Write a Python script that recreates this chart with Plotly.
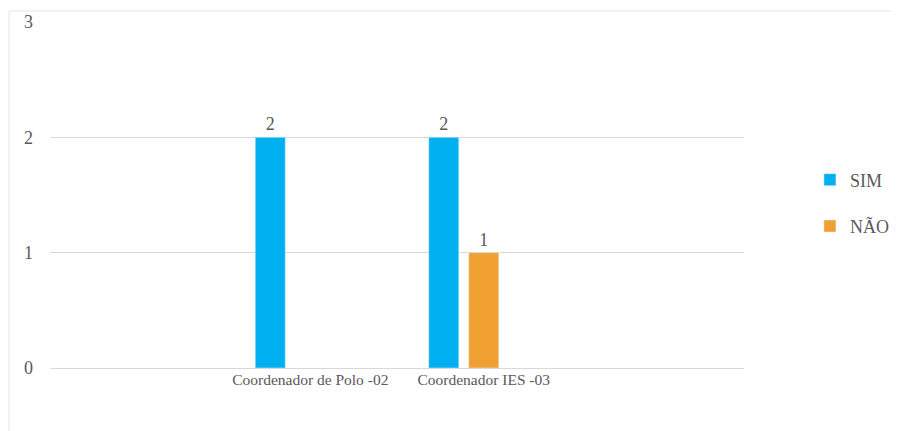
import plotly.graph_objects as go

categories = ["", "Coordenador de Polo -02", "Coordenador IES -03", ""]
sim_values = [None, 2, 2, None]
nao_values = [None, None, 1, None]
y_ticks = [0, 1, 2, 3]

positions = list(range(len(categories)))
label_positions = [p for p, c in zip(positions, categories) if c]
label_texts = [c for c in categories if c]

FONT = "Times New Roman"
GRAY = "#595959"

bar_w = 0.173
fig = go.Figure()
fig.add_trace(go.Bar(
    x=positions, y=sim_values, name="SIM", marker_color="#00B0F0",
    width=bar_w, offset=-0.2305 - bar_w / 2,
    text=[("" if v is None else str(v)) for v in sim_values],
    textposition="outside", cliponaxis=False,
    textfont=dict(family=FONT, size=18, color=GRAY),
    legendgroup="a",
))
fig.add_trace(go.Bar(
    x=positions, y=nao_values, name="NÃO", marker_color="#F0A030",
    width=bar_w, offset=-bar_w / 2,
    text=[("" if v is None else str(v)) for v in nao_values],
    textposition="outside", cliponaxis=False,
    textfont=dict(family=FONT, size=18, color=GRAY),
    legendgroup="b",
))

fig.update_layout(
    width=891, height=423,
    margin=dict(l=42, r=155, t=14, b=63, autoexpand=False),
    paper_bgcolor="white", plot_bgcolor="white",
    barmode="overlay",
    font=dict(family=FONT, color=GRAY, size=16),
    xaxis=dict(
        range=[-0.5, 3.5], tickmode="array", tickvals=label_positions,
        ticktext=label_texts, showgrid=False, zeroline=False, showline=False,
        ticks="", tickfont=dict(family=FONT, size=15.5, color=GRAY),
    ),
    yaxis=dict(
        range=[0, 3], tickmode="array", tickvals=y_ticks,
        showgrid=True, gridcolor="#d9d9d9", gridwidth=1,
        zeroline=True, zerolinecolor="#d9d9d9", zerolinewidth=1,
        showline=False, ticks="", ticklabelstandoff=16,
        tickfont=dict(family=FONT, size=18, color=GRAY),
    ),
    legend=dict(
        x=1.095, xanchor="left", y=0.477, yanchor="middle",
        font=dict(family=FONT, size=18, color=GRAY),
        traceorder="grouped", tracegroupgap=20,
        itemwidth=30, bgcolor="rgba(0,0,0,0)",
    ),
    shapes=[dict(
        type="rect", xref="paper", yref="paper",
        x0=-0.059, x1=1.4, y0=-0.3, y1=1.0318,
        line=dict(color="#e3e3e3", width=1), fillcolor="rgba(0,0,0,0)",
        layer="below",
    )],
)

fig.write_html("out.html")
